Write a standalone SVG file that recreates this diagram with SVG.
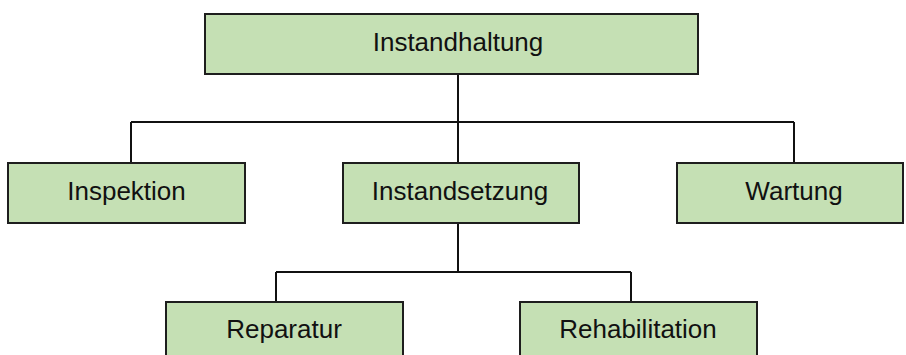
<svg xmlns="http://www.w3.org/2000/svg" width="906" height="355" viewBox="0 0 906 355">
<style>
.box{fill:#c5e0b4;stroke:#1e1e1e;stroke-width:2}
.lbl{font-family:"Liberation Sans",Arial,sans-serif;font-size:26px;fill:#111;text-anchor:middle}
.con{fill:none;stroke:#111;stroke-width:2}
</style>
<rect width="906" height="355" fill="#fff"/>
<g id="connectors">
<path class="con" d="M458 74V122M131 122H794M131 122V163M458 122V163M794 122V163"/>
<path class="con" d="M458 223V272M276 272H631M276 272V302M631 272V302"/>
</g>
<g id="instandhaltung"><rect class="box" x="205" y="14" width="493" height="60"/><text class="lbl" x="458" y="51">Instandhaltung</text></g>
<g id="inspektion"><rect class="box" x="8" y="163" width="237" height="60"/><text class="lbl" x="126.5" y="200">Inspektion</text></g>
<g id="instandsetzung"><rect class="box" x="343" y="163" width="236" height="60"/><text class="lbl" x="460" y="200">Instandsetzung</text></g>
<g id="wartung"><rect class="box" x="677" y="163" width="226" height="60"/><text class="lbl" x="794" y="200">Wartung</text></g>
<g id="reparatur"><rect class="box" x="166" y="302" width="237" height="60"/><text class="lbl" x="284" y="338">Reparatur</text></g>
<g id="rehabilitation"><rect class="box" x="520" y="302" width="237" height="60"/><text class="lbl" x="638" y="338">Rehabilitation</text></g>
</svg>
